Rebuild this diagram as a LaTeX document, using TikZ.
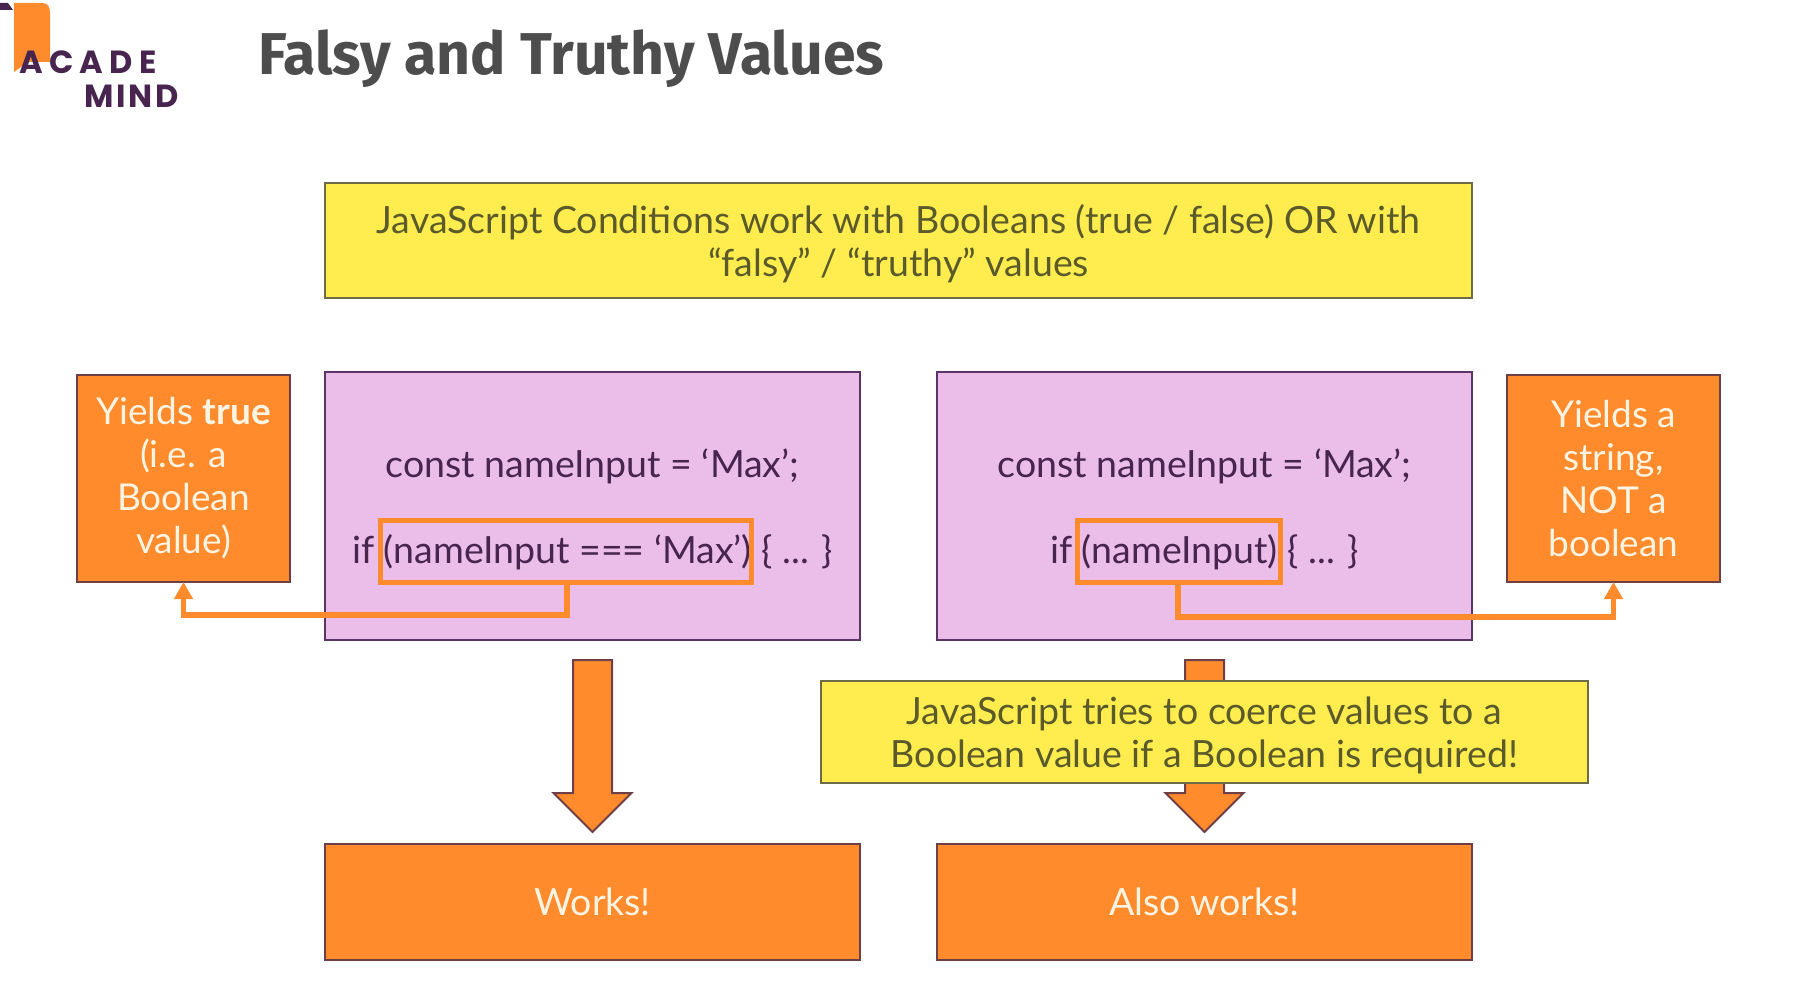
\documentclass[tikz,border=0pt]{standalone}
\usepackage{fontspec}
\usetikzlibrary{arrows.meta,calc}
\setmainfont{Lato}
\newfontfamily\titlefont{Fira Sans}
\newfontfamily\logofontA[LetterSpace=20]{Poppins}
\newfontfamily\logofontB[LetterSpace=9]{Poppins}
\newcommand{\lift}{\rule{0pt}{35pt}}
\definecolor{cOrange}{HTML}{FF8B2D}
\definecolor{cOrangeEdge}{HTML}{6E3F47}
\definecolor{cYellow}{HTML}{FFED4F}
\definecolor{cYellowEdge}{HTML}{6B6B45}
\definecolor{cPurple}{HTML}{EBBDE9}
\definecolor{cPurpleEdge}{HTML}{5C3566}
\definecolor{cInk}{HTML}{47254F}
\definecolor{cTitle}{HTML}{4D4D4D}
\definecolor{cOlive}{HTML}{5A5A2A}
\definecolor{cCream}{HTML}{FFF3E2}
\tikzset{
  x=1pt,y=-1pt,
  box/.style={anchor=north west,outer sep=0pt,inner sep=0pt,line width=2pt,align=center},
  note/.style={box,fill=cYellow,draw=cYellowEdge,text=cOlive,font=\fontsize{37.5}{43}\selectfont},
  codebox/.style={box,fill=cPurple,draw=cPurpleEdge,text=cInk,minimum width=535pt,minimum height=268pt,font=\fontsize{37.5}{86.5}\selectfont},
  sidebox/.style={box,fill=cOrange,draw=cOrangeEdge,text=cCream,minimum width=213pt,minimum height=207pt,font=\fontsize{37}{43}\selectfont},
  resultbox/.style={box,fill=cOrange,draw=cOrangeEdge,text=cCream,minimum width=535pt,minimum height=116pt,font=\fontsize{37.5}{42}\selectfont},
  markbox/.style={box,draw=cOrange,line width=5pt,minimum height=62pt},
  linkline/.style={draw=cOrange,line width=5.5pt,-{Triangle[length=17pt,width=18pt]}},
  bigarrow/.style={fill=cOrange,draw=cOrangeEdge,line width=2pt,line join=miter},
}
\newcommand{\downarrowshape}[1]{%
  \draw[bigarrow] (#1.south) ++(-19.5,20) -- ++(39,0) -- ++(0,133) -- ++(19.5,0)
    -- ++(-39,39) -- ++(-39,-39) -- ++(19.5,0) -- cycle;}
\begin{document}
\begin{tikzpicture}
\useasboundingbox (0,0) rectangle (1810,998);
\fill[white] (0,0) rectangle (1810,998);
% logo
\fill[cOrange] (14,3) -- (42,3) .. controls (48,3) and (50,7) .. (50,13) -- (50,62) -- (28,62) -- (14,72) -- cycle;
\fill[cInk] (0,3) -- (8,3) -- (13,10) -- (0,10) -- cycle;
\node[anchor=west,inner sep=0pt,text=cInk,font=\logofontA\bfseries\fontsize{32}{34}\selectfont] (logoA) at (19,62) {ACADE};
\node[anchor=west,inner sep=0pt,text=cInk,font=\logofontB\bfseries\fontsize{32}{34}\selectfont] (logoB) at (84,96) {MIND};
% title
\node[anchor=west,inner sep=0pt,text=cTitle,font=\titlefont\bfseries\fontsize{59}{64}\selectfont] (title) at (258,59) {Falsy and Truthy Values};
% top note
\node[note,minimum width=1147pt,minimum height=115pt] (top) at (325,183)
  {\lift JavaScript Conditions work with Booleans (true / false) OR with\\“falsy” / “truthy” values};
% side boxes
\node[sidebox] (yl) at (77,375) {Yields \textbf{true}\\(i.e. a\\Boolean\\value)};
\node[sidebox] (yr) at (1507,375) {Yields a\\string,\\NOT a\\boolean};
% code boxes
\node[codebox] (pl) at (325,372) {\lift const nameInput = ‘Max’;\\if (nameInput === ‘Max’) \{ ... \}};
\node[codebox] (pr) at (937,372) {\lift const nameInput = ‘Max’;\\if (nameInput) \{ ... \}};
% highlights
\node[markbox,minimum width=371pt] (hl) at (380,520) {};
\node[markbox,minimum width=203pt] (hr) at (1077,520) {};
% connectors
\coordinate (el) at (567,615);
\coordinate (er) at (1178,617);
\draw[linkline] (el |- hl.south) -- (el) -| (yl.south);
\draw[linkline] (er |- hr.south) -- (er) -| (yr.south);
% results
\node[resultbox] (wl) at (325,844) {Works!};
\node[resultbox] (wr) at (937,844) {Also works!};
% big arrows
\downarrowshape{pl}
\downarrowshape{pr}
% coerce note
\node[note,minimum width=767pt,minimum height=102pt] (coerce) at (821,681)
  {\lift JavaScript tries to coerce values to a\\Boolean value if a Boolean is required!};
\end{tikzpicture}
\end{document}
